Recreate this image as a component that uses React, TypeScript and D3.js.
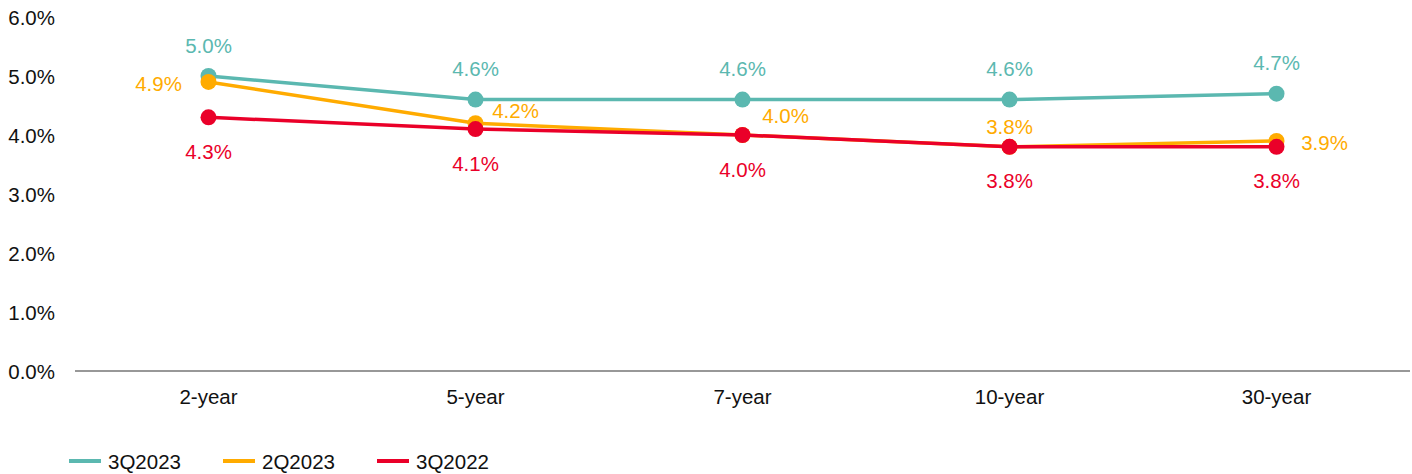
import React from 'react';
import * as d3 from 'd3';

const categories = ['2-year', '5-year', '7-year', '10-year', '30-year'];
const seriesNames = ['3Q2023', '2Q2023', '3Q2022'];
const q3_2023 = [5.0, 4.6, 4.6, 4.6, 4.7];
const q2_2023 = [4.9, 4.2, 4.0, 3.8, 3.9];
const q3_2022 = [4.3, 4.1, 4.0, 3.8, 3.8];
const yTicks = [0, 1, 2, 3, 4, 5, 6];

const colors = ['#5bb8b0', '#ffab00', '#ea0029'];

// label offsets (dx, dy) relative to each point, per series
const labelOffsets = [
  categories.map(() => [0, -31]),
  [[-50, 2], [40, -13], [43, -20], [0, -20], [48, 2]],
  categories.map(() => [0, 34]),
];

const W = 1412;
const H = 474;
const margin = { left: 75, right: 2, top: 17, bottom: 103 };

export default function App() {
  const x = d3
    .scaleBand<string>()
    .domain(categories)
    .range([margin.left, W - margin.right]);
  const y = d3
    .scaleLinear()
    .domain([0, 6])
    .range([H - margin.bottom, margin.top]);

  const allSeries = [q3_2023, q2_2023, q3_2022];
  const cx = (c: string) => (x(c) ?? 0) + x.bandwidth() / 2;
  const line = d3
    .line<number>()
    .x((_, i) => cx(categories[i]))
    .y((d) => y(d));

  const font = 'Liberation Sans, Arial, sans-serif';
  const fs = 20.5;
  const legendX = [69, 223, 377];

  // later series drawn on top (3Q2022 uppermost)
  const order = [0, 1, 2];

  return (
    <svg
      width={W}
      height={H}
      style={{ position: 'absolute', left: 0, top: 0, background: '#fff' }}
      fontFamily={font}
    >
      {yTicks.map((t) => (
        <text
          key={t}
          x={55}
          y={y(t)}
          textAnchor="end"
          dominantBaseline="central"
          fontSize={fs}
          fill="#111"
        >
          {t.toFixed(1)}%
        </text>
      ))}
      <line
        x1={margin.left}
        x2={W - margin.right}
        y1={y(0)}
        y2={y(0)}
        stroke="#333"
        strokeWidth={1.2}
      />
      {categories.map((c) => (
        <text
          key={c}
          x={cx(c)}
          y={396}
          textAnchor="middle"
          dominantBaseline="central"
          fontSize={fs}
          fill="#111"
        >
          {c}
        </text>
      ))}
      {order.map((s) => (
        <g key={seriesNames[s]}>
          <path
            d={line(allSeries[s]) ?? ''}
            fill="none"
            stroke={colors[s]}
            strokeWidth={3.5}
          />
          {allSeries[s].map((v, i) => (
            <circle
              key={i}
              cx={cx(categories[i])}
              cy={y(v)}
              r={8}
              fill={colors[s]}
            />
          ))}
        </g>
      ))}
      {order.map((s) =>
        allSeries[s].map((v, i) => (
          <text
            key={`${s}-${i}`}
            x={cx(categories[i]) + labelOffsets[s][i][0]}
            y={y(v) + labelOffsets[s][i][1]}
            textAnchor="middle"
            dominantBaseline="central"
            fontSize={fs}
            fill={colors[s]}
          >
            {v.toFixed(1)}%
          </text>
        ))
      )}
      {seriesNames.map((n, i) => (
        <g key={n}>
          <line
            x1={legendX[i]}
            x2={legendX[i] + 32}
            y1={461}
            y2={461}
            stroke={colors[i]}
            strokeWidth={4}
          />
          <text
            x={legendX[i] + 39}
            y={461}
            dominantBaseline="central"
            fontSize={fs}
            fill="#111"
          >
            {n}
          </text>
        </g>
      ))}
    </svg>
  );
}
